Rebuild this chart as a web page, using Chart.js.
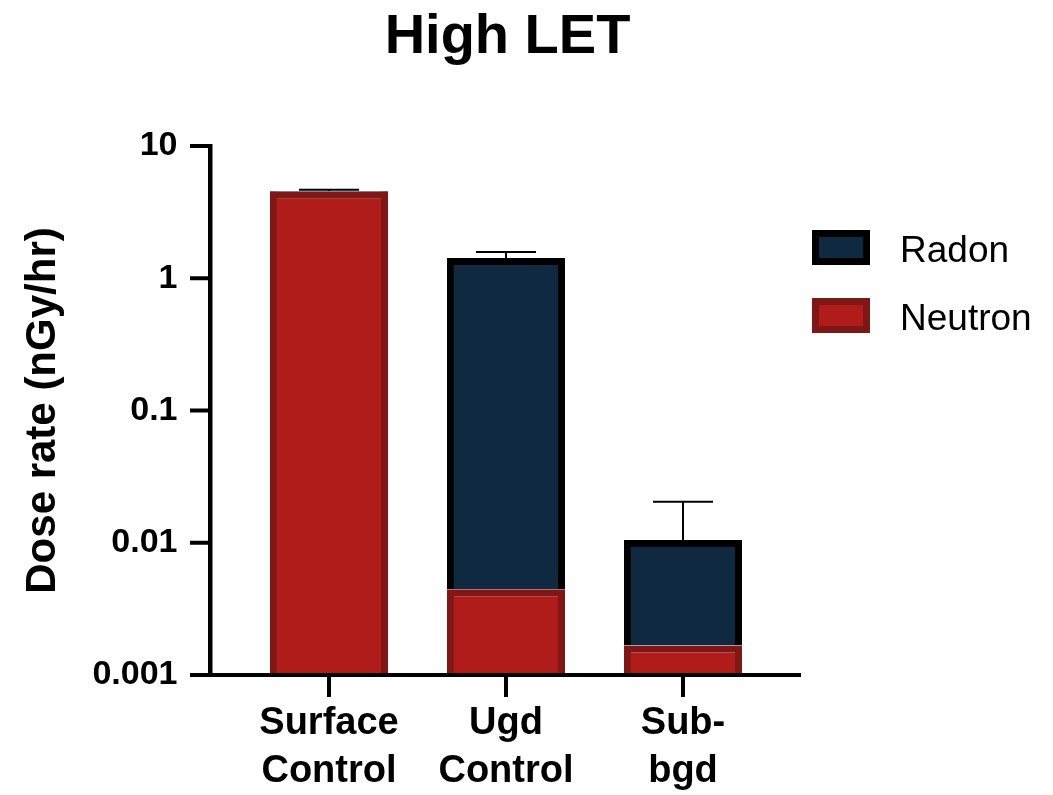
<!DOCTYPE html>
<html><head><meta charset="utf-8">
<script src="https://cdn.jsdelivr.net/npm/chart.js@4.4.1/dist/chart.umd.min.js"></script>
<style>html,body{margin:0;padding:0;background:#fff;overflow:hidden}canvas{display:block}</style>
</head><body>
<canvas id="c" width="1053" height="795"></canvas>
<script>
const categories = [['Surface','Control'],['Ugd','Control'],['Sub-','bgd']];
const neutron = [4.5, 0.00445, 0.00167];
const radon = [0.06, 1.416, 0.00883];
const errorSD = [0.1, 0.16, 0.0099];
const seriesNames = ['Neutron','Radon'];
const tickValues = [10, 1, 0.1, 0.01, 0.001];
const tickLabels = ['10', '1', '0.1', '0.01', '0.001'];
const chartTitle = 'High LET';
const yTitle = 'Dose rate (nGy/hr)';

const FF = '"Liberation Sans", Arial, Helvetica, sans-serif';
const NEUTRON_FILL = '#b01c1a', NEUTRON_BORDER = '#7e1716';
const RADON_FILL = '#0f2a40', RADON_BORDER = '#000000';

const decorPlugin = {
  id: 'decor',
  afterDatasetsDraw(chart) {
    const ctx = chart.ctx;
    const xs = chart.scales.x, ys = chart.scales.y;
    ctx.save();
    // error bars
    ctx.strokeStyle = '#000';
    ctx.lineWidth = 2;
    for (let i = 0; i < categories.length; i++) {
      const total = neutron[i] + radon[i];
      const x = xs.getPixelForValue(i);
      const y0 = ys.getPixelForValue(total);
      const y1 = ys.getPixelForValue(total + errorSD[i]);
      ctx.beginPath();
      ctx.moveTo(x, y0); ctx.lineTo(x, y1);
      ctx.moveTo(x - 30, y1); ctx.lineTo(x + 30, y1);
      ctx.stroke();
    }
    // axes
    ctx.fillStyle = '#000';
    const yb = ys.getPixelForValue(tickValues[tickValues.length - 1]);
    const yt = ys.getPixelForValue(tickValues[0]);
    ctx.fillRect(208, yt - 2, 4.5, yb - yt + 4);
    tickValues.forEach(v => {
      const y = ys.getPixelForValue(v);
      ctx.fillRect(190, y - 2, 20, 4);
    });
    ctx.fillRect(208, yb - 2, 801 - 208, 4);
    for (let i = 0; i < categories.length; i++) {
      const x = xs.getPixelForValue(i);
      ctx.fillRect(x - 2, yb, 4, 22);
    }
    ctx.restore();
  },
  afterDraw(chart) {
    const ctx = chart.ctx;
    ctx.save();
    // title
    ctx.fillStyle = '#000';
    ctx.font = 'bold 56px ' + FF;
    ctx.textAlign = 'center';
    ctx.textBaseline = 'alphabetic';
    ctx.fillText(chartTitle, 507.5, 53);
    // legend (Radon first, then Neutron)
    const items = [
      {label: chart.data.datasets[1].label, fill: RADON_FILL, border: RADON_BORDER, y: 230, base: 262},
      {label: chart.data.datasets[0].label, fill: NEUTRON_FILL, border: NEUTRON_BORDER, y: 298, base: 330}
    ];
    items.forEach(it => {
      ctx.fillStyle = it.border;
      ctx.fillRect(812, it.y, 58, 35);
      ctx.fillStyle = it.fill;
      ctx.fillRect(819, it.y + 7, 44, 21);
      ctx.fillStyle = '#000';
      ctx.font = '37px ' + FF;
      ctx.textAlign = 'left';
      ctx.textBaseline = 'alphabetic';
      ctx.fillText(it.label, 900, it.base);
    });
    ctx.restore();
  }
};

new Chart(document.getElementById('c'), {
  type: 'bar',
  data: {
    labels: categories,
    datasets: [
      {label: seriesNames[0], data: neutron, backgroundColor: NEUTRON_FILL, borderColor: NEUTRON_BORDER, borderWidth: 7, borderSkipped: 'start'},
      {label: seriesNames[1], data: radon, backgroundColor: RADON_FILL, borderColor: RADON_BORDER, borderWidth: 7, borderSkipped: 'start'}
    ]
  },
  options: {
    responsive: false,
    animation: false,
    devicePixelRatio: 1,
    layout: {padding: {top: 146, right: 281.5, left: 0, bottom: 0}},
    datasets: {bar: {barPercentage: 1, categoryPercentage: 0.667}},
    plugins: {legend: {display: false}, title: {display: false}, tooltip: {enabled: false}},
    scales: {
      x: {
        type: 'category',
        stacked: true,
        grid: {display: false, drawTicks: false},
        border: {display: false},
        ticks: {color: '#000', font: {family: FF, size: 38, weight: 'bold', lineHeight: 1.28}, padding: 24, maxRotation: 0, autoSkip: false},
        afterFit(s) { s.height = 120; }
      },
      y: {
        type: 'logarithmic',
        stacked: true,
        min: 0.001,
        max: 10,
        grid: {display: false, drawTicks: false},
        border: {display: false},
        afterBuildTicks(s) { s.ticks = tickValues.map(v => ({value: v})); },
        ticks: {
          color: '#000',
          font: {family: FF, size: 34, weight: 'bold'},
          padding: 63,
          autoSkip: false,
          callback(v) { const i = tickValues.indexOf(v); return i >= 0 ? tickLabels[i] : ''; }
        },
        title: {display: true, text: yTitle, color: '#000', font: {family: FF, size: 42, weight: 'bold'}, padding: {top: 18, bottom: 0}},
        afterFit(s) { s.width = 240.5; }
      }
    }
  },
  plugins: [decorPlugin]
});
</script>
</body></html>
